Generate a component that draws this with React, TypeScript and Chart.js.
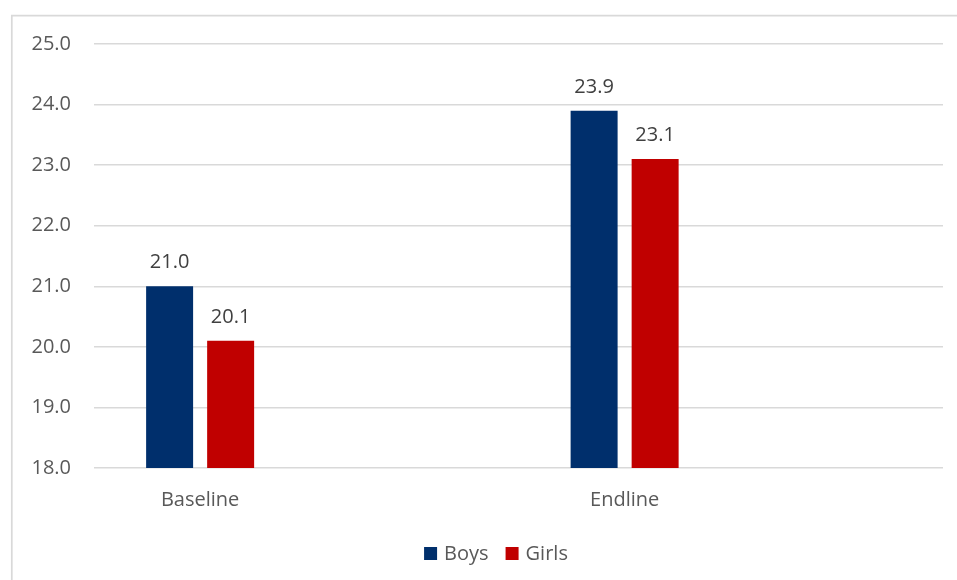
import React, { useEffect, useRef } from "react";
import { Chart, registerables } from "chart.js";

Chart.register(...registerables);

// Survey rounds (the two blank slots keep the wide spacing between groups)
const categories: string[] = ["Baseline", "", "Endline", ""];
const boys: (number | null)[] = [21.0, null, 23.9, null];
const girls: (number | null)[] = [20.1, null, 23.1, null];
const seriesNames: string[] = ["Boys", "Girls"];
const yTicks = { min: 18, max: 25, step: 1 };

const FONT = "'Open Sans', 'Noto Sans', sans-serif";
const AXIS_TEXT = "#595959";
const LABEL_TEXT = "#404040";
const GRID = "#d9d9d9";
const BOYS_COLOR = "#002F6C";
const GIRLS_COLOR = "#C00000";

// Thin frame around the chart area (left and top edges are visible)
const framePlugin = {
  id: "frame",
  beforeDraw(chart: any) {
    const { ctx, width, height } = chart;
    ctx.save();
    ctx.strokeStyle = GRID;
    ctx.lineWidth = 1.7;
    ctx.beginPath();
    ctx.moveTo(11.8, height + 2);
    ctx.lineTo(11.8, 15.6);
    ctx.lineTo(width + 2, 15.6);
    ctx.stroke();
    ctx.restore();
  },
};

// Value labels above each bar
const valueLabelPlugin = {
  id: "valueLabels",
  afterDatasetsDraw(chart: any) {
    const { ctx } = chart;
    ctx.save();
    ctx.font = `20px ${FONT}`;
    ctx.fillStyle = LABEL_TEXT;
    ctx.textAlign = "center";
    ctx.textBaseline = "alphabetic";
    chart.data.datasets.forEach((ds: any, di: number) => {
      const meta = chart.getDatasetMeta(di);
      meta.data.forEach((bar: any, i: number) => {
        const v = ds.data[i];
        if (v === null || v === undefined) return;
        ctx.fillText(Number(v).toFixed(1), bar.x, bar.y - 18);
      });
    });
    ctx.restore();
  },
};

// Legend row centred under the plot
const legendPlugin = {
  id: "customLegend",
  afterDraw(chart: any) {
    const { ctx } = chart;
    ctx.save();
    ctx.font = `20px ${FONT}`;
    ctx.textBaseline = "middle";
    ctx.textAlign = "left";
    const box = 13;
    const gap = 7;
    const spacing = 17;
    const items = chart.data.datasets.map((ds: any) => ({
      label: ds.label,
      color: ds.backgroundColor,
      w: ctx.measureText(ds.label).width,
    }));
    const total =
      items.reduce((s: number, it: any) => s + box + gap + it.w, 0) +
      spacing * (items.length - 1);
    const cx = 496;
    const cy = 553.5;
    let x = cx - total / 2;
    items.forEach((it: any) => {
      ctx.fillStyle = it.color;
      ctx.fillRect(x, cy - box / 2, box, box);
      x += box + gap;
      ctx.fillStyle = AXIS_TEXT;
      ctx.fillText(it.label, x, cy + 1);
      x += it.w + spacing;
    });
    ctx.restore();
  },
};

export default function App() {
  const canvasRef = useRef<HTMLCanvasElement | null>(null);

  useEffect(() => {
    if (!canvasRef.current) return;
    const chart = new Chart(canvasRef.current, {
      type: "bar",
      data: {
        labels: categories,
        datasets: [
          {
            label: seriesNames[0],
            data: boys,
            backgroundColor: BOYS_COLOR,
            categoryPercentage: 0.575,
            barPercentage: 0.77,
          },
          {
            label: seriesNames[1],
            data: girls,
            backgroundColor: GIRLS_COLOR,
            categoryPercentage: 0.575,
            barPercentage: 0.77,
          },
        ],
      },
      options: {
        animation: false,
        responsive: false,
        layout: { padding: { left: 12, top: 44, right: 14, bottom: 0 } },
        plugins: {
          legend: { display: false },
          tooltip: { enabled: false },
        },
        scales: {
          x: {
            grid: { display: false, drawTicks: false },
            border: { display: false },
            ticks: {
              color: AXIS_TEXT,
              font: { family: FONT, size: 20 },
              padding: 20,
              maxRotation: 0,
              autoSkip: false,
            },
            afterFit: (scale: any) => {
              scale.height = 112;
            },
          },
          y: {
            min: yTicks.min,
            max: yTicks.max,
            grid: { color: GRID, lineWidth: 1.5, drawTicks: false },
            border: { display: false },
            ticks: {
              stepSize: yTicks.step,
              color: AXIS_TEXT,
              font: { family: FONT, size: 20 },
              padding: 23,
              callback: (v: any) => Number(v).toFixed(1),
            },
            afterFit: (scale: any) => {
              scale.width = 82;
            },
          },
        },
      },
      plugins: [framePlugin, valueLabelPlugin, legendPlugin],
    });
    return () => chart.destroy();
  }, []);

  return (
    <div
      style={{
        position: "fixed",
        left: 0,
        top: 0,
        width: 957,
        height: 580,
        background: "#ffffff",
      }}
    >
      <canvas ref={canvasRef} width={957} height={580} />
    </div>
  );
}
